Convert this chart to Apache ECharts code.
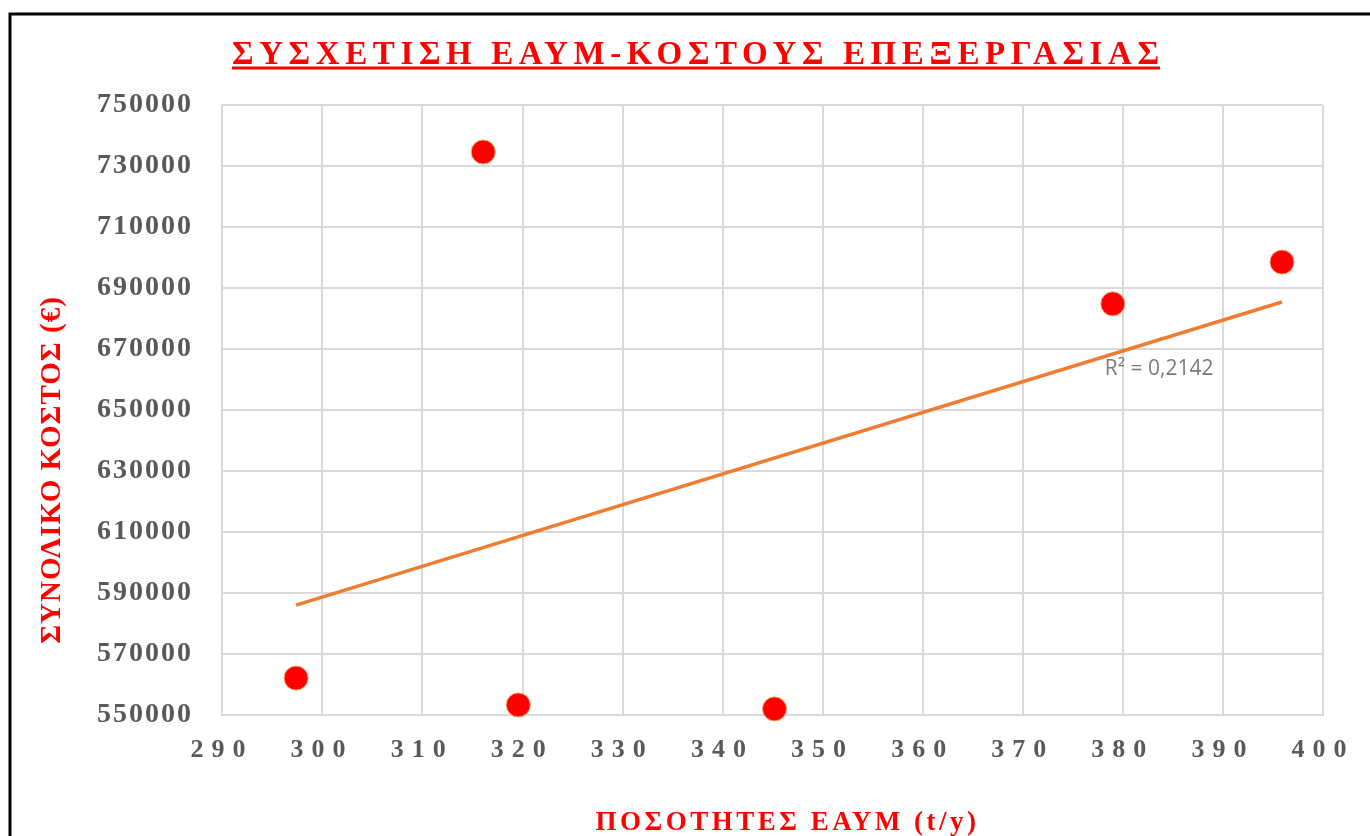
<!DOCTYPE html>
<html>
<head>
<meta charset="utf-8">
<script src="https://cdn.jsdelivr.net/npm/echarts@6/dist/echarts.min.js"></script>
<style>
html,body{margin:0;padding:0;background:#fff;}
#chart{width:1370px;height:836px;}
</style>
</head>
<body>
<div id="chart"></div>
<script>
// ---- data ----
const titleText = 'ΣΥΣΧΕΤΙΣΗ ΕΑΥΜ-ΚΟΣΤΟΥΣ ΕΠΕΞΕΡΓΑΣΙΑΣ';
const xAxisName = 'ΠΟΣΟΤΗΤΕΣ ΕΑΥΜ (t/y)';
const yAxisName = 'ΣΥΝΟΛΙΚΟ ΚΟΣΤΟΣ (€)';
const quantities = [297.4, 316.1, 319.6, 345.2, 379.0, 395.9];
const totalCost = [562100, 734600, 553300, 552000, 684800, 698500];
const trendX = [297.4, 395.9];
const trendY = [586000, 685400];
const r2Label = 'R² = 0,2142';
const r2Anchor = [378.2, 663300];

// letter spacing per font size (canvas letterSpacing)
const SPACING = {'33px': 5.6, '26px': 8, '28px': 2, '29px': 1, '27px': 3.5};
function sp(font){ for (const k in SPACING) { if (font.indexOf(' ' + k) >= 0 || font.indexOf(k) === 0) return SPACING[k]; } return 0; }
const P = CanvasRenderingContext2D.prototype;
const of = P.fillText, om = P.measureText;
P.fillText = function(t, x, y, m){ this.letterSpacing = sp(this.font) + 'px'; const r = m === undefined ? of.call(this, t, x, y) : of.call(this, t, x, y, m); this.letterSpacing = '0px'; return r; };
P.measureText = function(t){ this.letterSpacing = sp(this.font) + 'px'; const r = om.call(this, t); this.letterSpacing = '0px'; return r; };

const serif = '"Liberation Serif", "Times New Roman", serif';
const chart = echarts.init(document.getElementById('chart'));
chart.setOption({
  animation: false,
  backgroundColor: '#fff',
  title: {
    text: titleText,
    left: 232, top: 36, padding: 0,
    textStyle: {color: '#ff0000', fontFamily: serif, fontWeight: 'bold', fontSize: 33}
  },
  graphic: [
    {type: 'polyline', shape: {points: [[10, 836], [10, 14], [1370, 14]]}, style: {stroke: '#000', lineWidth: 3, fill: null}, silent: true},
    {type: 'line', shape: {x1: 232, y1: 68, x2: 1160, y2: 68}, style: {stroke: '#ff0000', lineWidth: 3}, silent: true}
  ],
  grid: {left: 222, right: 47, top: 105, bottom: 121, outerBoundsMode: 'none', containLabel: false},
  xAxis: {
    type: 'value', min: 290, max: 400, interval: 10,
    name: xAxisName, nameLocation: 'middle', nameGap: 93,
    nameTextStyle: {color: '#ff0000', fontFamily: serif, fontWeight: 'bold', fontSize: 27, padding: [0, 0, 0, 30]},
    axisLine: {show: true, lineStyle: {color: '#d9d9d9', width: 2}},
    axisTick: {show: false},
    splitLine: {show: true, lineStyle: {color: '#d9d9d9', width: 2}},
    axisLabel: {color: '#595959', fontFamily: serif, fontWeight: 'bold', fontSize: 26, margin: 18}
  },
  yAxis: {
    type: 'value', min: 550000, max: 750000, interval: 20000,
    name: yAxisName, nameLocation: 'middle', nameGap: 154, nameRotate: 90,
    nameTextStyle: {color: '#ff0000', fontFamily: serif, fontWeight: 'bold', fontSize: 29, padding: [0, 120, 0, 0]},
    axisLine: {show: true, lineStyle: {color: '#d9d9d9', width: 2}},
    axisTick: {show: false},
    splitLine: {show: true, lineStyle: {color: '#d9d9d9', width: 2}},
    axisLabel: {color: '#595959', fontFamily: serif, fontWeight: 'bold', fontSize: 28, margin: 29, formatter: v => String(v)}
  },
  series: [
    {
      type: 'line', data: trendX.map((x, i) => [x, trendY[i]]),
      symbol: 'none', lineStyle: {color: '#ed7d31', width: 3.5}, z: 2, silent: true
    },
    {
      type: 'scatter', data: quantities.map((x, i) => [x, totalCost[i]]),
      symbolSize: 24,
      itemStyle: {color: '#ff0000', borderColor: '#f4a460', borderWidth: 1, opacity: 1}, z: 3
    },
    {
      type: 'scatter', data: [r2Anchor], symbolSize: 0, silent: true,
      label: {show: true, position: 'right', distance: 0, formatter: r2Label, color: '#595959', fontFamily: '"Open Sans", "Liberation Sans", sans-serif', fontSize: 21}
    }
  ]
});
</script>
</body>
</html>
